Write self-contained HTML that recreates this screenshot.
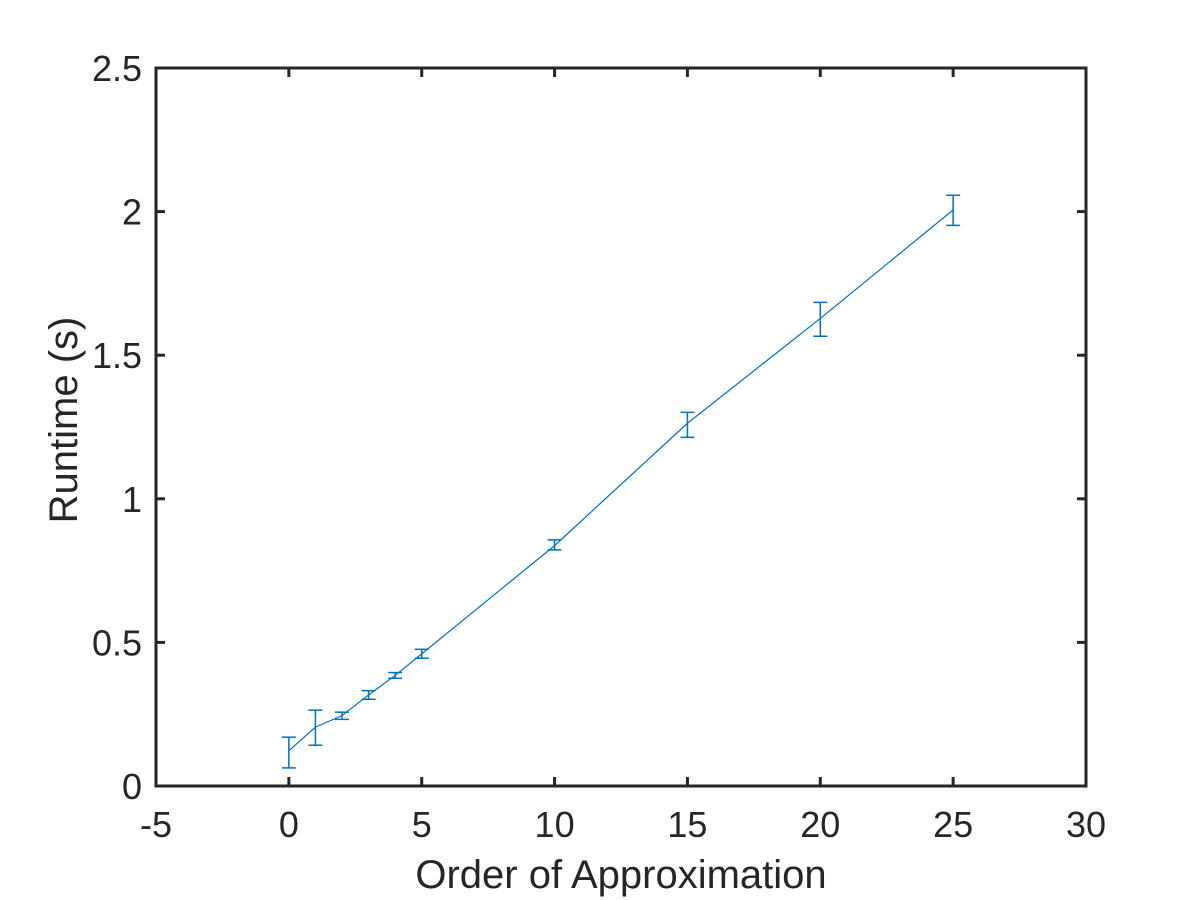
<!DOCTYPE html>
<html><head><meta charset="utf-8"><style>
html,body{margin:0;padding:0;background:#fff;}
svg{display:block;font-family:"Liberation Sans",Arial,sans-serif;}
</style></head><body>
<svg id="chart" width="1200" height="900" viewBox="0 0 1200 900"></svg>
<script>
const xValues=[0,1,2,3,4,5,10,15,20,25];
const yValues=[0.123,0.205,0.245,0.317,0.385,0.46,0.837,1.263,1.628,2.006];
const yUpper=[0.17,0.264,0.257,0.332,0.395,0.476,0.857,1.301,1.684,2.057];
const yLower=[0.063,0.142,0.232,0.302,0.375,0.445,0.822,1.214,1.566,1.952];
const xTicks=[-5,0,5,10,15,20,25,30];
const yTicks=[0,0.5,1,1.5,2,2.5];
const xTickLabels=["-5","0","5","10","15","20","25","30"];
const yTickLabels=["0","0.5","1","1.5","2","2.5"];

const L=156,R=1086,T=68,B=786;
const sx=v=>L+(v+5)/35*(R-L);
const sy=v=>B-v/2.5*(B-T);
const svg=document.getElementById('chart');
const NS='http://www.w3.org/2000/svg';
function mk(tag,attrs,parent){const e=document.createElementNS(NS,tag);for(const k in attrs)e.setAttribute(k,attrs[k]);(parent||svg).appendChild(e);return e;}

let d=xValues.map((x,i)=>(i?'L':'M')+sx(x)+' '+sy(yValues[i])).join(' ');
const line=mk('path',{d:d,fill:'none',stroke:'#0072BD','stroke-width':1.2});


xValues.forEach((x,i)=>{
  const g=mk('g',{stroke:'#0072BD','stroke-width':1.5,fill:'none'});
  
  
  const cx=sx(x),t=sy(yUpper[i]),b=sy(yLower[i]);
  mk('line',{x1:cx,x2:cx,y1:t,y2:b},g);
  mk('line',{x1:cx-7,x2:cx+7,y1:t,y2:t},g);
  mk('line',{x1:cx-7,x2:cx+7,y1:b,y2:b},g);
});

const box=mk('rect',{x:L,y:T,width:R-L,height:B-T,fill:'none',stroke:'#262626','stroke-width':3});


xTicks.forEach((v,i)=>{
  const x=sx(v);
  mk('line',{x1:x,x2:x,y1:B,y2:B-9,stroke:'#262626','stroke-width':3});
  mk('line',{x1:x,x2:x,y1:T,y2:T+9,stroke:'#262626','stroke-width':3});
  const t=mk('text',{x:x,y:B+51,'text-anchor':'middle','font-size':36,fill:'#262626'});
  t.textContent=xTickLabels[i];
  
  
});
yTicks.forEach((v,i)=>{
  const y=sy(v);
  mk('line',{x1:L,x2:L+9,y1:y,y2:y,stroke:'#262626','stroke-width':3});
  mk('line',{x1:R,x2:R-9,y1:y,y2:y,stroke:'#262626','stroke-width':3});
  const t=mk('text',{x:L-14,y:y+13,'text-anchor':'end','font-size':36,fill:'#262626'});
  t.textContent=yTickLabels[i];
  
  
});
const xt=mk('text',{x:(L+R)/2,y:888,'text-anchor':'middle','font-size':40,fill:'#262626'});
xt.textContent='Order of Approximation';


const yt=mk('text',{x:0,y:0,'text-anchor':'middle','font-size':40,fill:'#262626',transform:'translate(77,420) rotate(-90)'});
yt.textContent='Runtime (s)';


</script>
</body></html>
